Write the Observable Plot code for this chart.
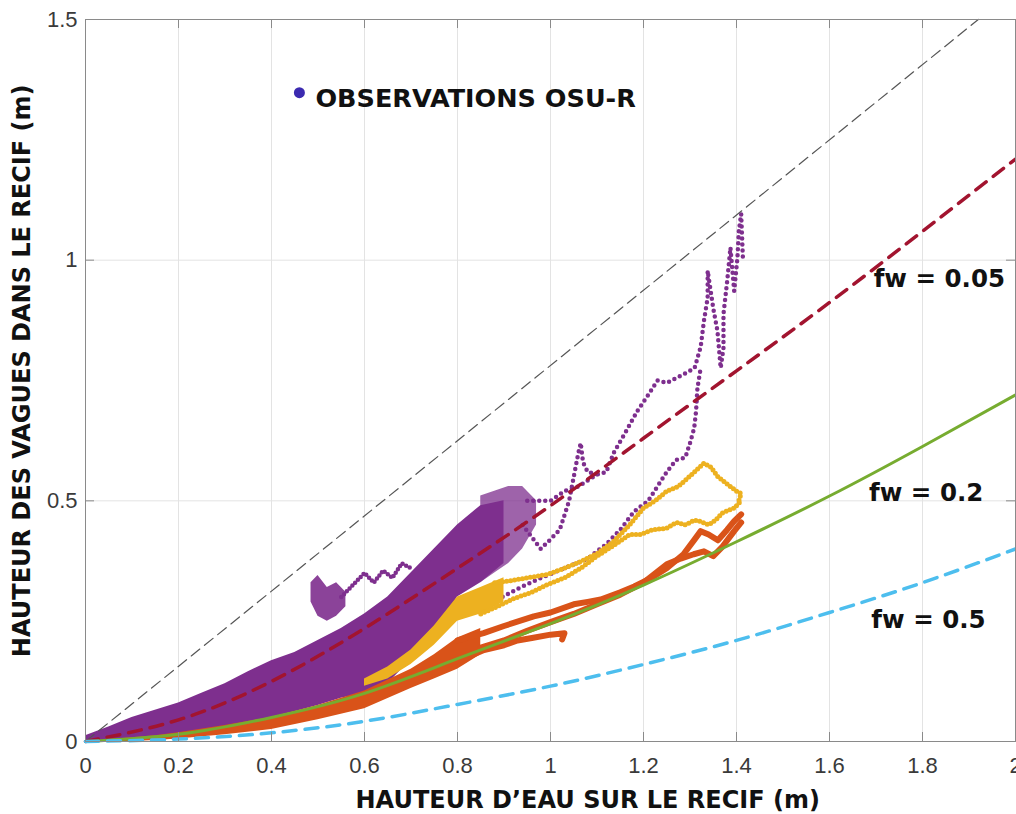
<!DOCTYPE html>
<html>
<head>
<meta charset="utf-8">
<script src="https://cdn.jsdelivr.net/npm/d3@7"></script>
<script src="https://cdn.jsdelivr.net/npm/@observablehq/plot@0.6"></script>
<style>
  html, body { margin: 0; padding: 0; background: #fff; }
  #chart { width: 1016px; height: 814px; }
</style>
</head>
<body>
<div id="chart"></div>
<script>
// ---- ticks ----
const xTicks = [0, 0.2, 0.4, 0.6, 0.8, 1, 1.2, 1.4, 1.6, 1.8, 2];
const yTicks = [0, 0.5, 1, 1.5];

// ---- model curves ----
const curveX = [0, 0.2, 0.4, 0.6, 0.8, 1.0, 1.2, 1.4, 1.6, 1.8, 2.0];
const fw005 = [0, 0.045, 0.125, 0.235, 0.36, 0.49, 0.63, 0.77, 0.912, 1.06, 1.21];
const fw02  = [0, 0.015, 0.05, 0.1, 0.172, 0.245, 0.325, 0.415, 0.51, 0.613, 0.72];
const fw05  = [0, 0.005, 0.018, 0.042, 0.077, 0.115, 0.16, 0.21, 0.268, 0.33, 0.40];
const diagX = [0, 1.92];
const diagY = [0, 1.5];

const purpleX  = [0, 0.05, 0.1, 0.15, 0.2, 0.25, 0.3, 0.35, 0.4, 0.45, 0.5, 0.55, 0.6, 0.65, 0.7, 0.75, 0.8, 0.85, 0.9];
const purpleLo = [0, 0, 0.003, 0.007, 0.012, 0.02, 0.028, 0.038, 0.05, 0.062, 0.075, 0.09, 0.1, 0.12, 0.17, 0.22, 0.3, 0.33, 0.37];
const purpleHi = [0.012, 0.03, 0.05, 0.065, 0.08, 0.1, 0.12, 0.145, 0.168, 0.185, 0.21, 0.235, 0.265, 0.3, 0.35, 0.4, 0.45, 0.49, 0.5];

const purpleSparseX  = [0.85, 0.88, 0.91, 0.94, 0.97];
const purpleSparseLo = [0.33, 0.35, 0.37, 0.4, 0.45];
const purpleSparseHi = [0.51, 0.52, 0.53, 0.53, 0.5];

const purpleBlobX  = [0.485, 0.5, 0.52, 0.54, 0.56];
const purpleBlobLo = [0.29, 0.26, 0.25, 0.26, 0.28];
const purpleBlobHi = [0.33, 0.345, 0.32, 0.33, 0.31];

const yellowX  = [0.6, 0.65, 0.7, 0.75, 0.8, 0.85, 0.9];
const yellowLo = [0.115, 0.13, 0.16, 0.2, 0.25, 0.265, 0.29];
const yellowHi = [0.13, 0.155, 0.19, 0.24, 0.3, 0.32, 0.34];

const orangeX  = [0.05, 0.1, 0.15, 0.2, 0.3, 0.4, 0.5, 0.6, 0.7, 0.75, 0.8, 0.85];
const orangeLo = [0, 0, 0.002, 0.005, 0.014, 0.025, 0.045, 0.068, 0.11, 0.13, 0.15, 0.18];
const orangeHi = [0.004, 0.008, 0.012, 0.018, 0.033, 0.05, 0.075, 0.105, 0.15, 0.18, 0.215, 0.235];

const purpleWave = [[0.55,0.3],[0.58,0.33],[0.6,0.35],[0.62,0.33],[0.64,0.355],[0.66,0.34],[0.68,0.37],[0.7,0.36]];
const purpleA = [[0.95,0.5],[1.0,0.5],[1.03,0.52],[1.06,0.53],[1.1,0.555],[1.12,0.56],[1.136,0.6],[1.16,0.64],[1.187,0.687],[1.21,0.72],[1.23,0.75],[1.25,0.745],[1.27,0.755],[1.29,0.765],[1.31,0.776],[1.323,0.82],[1.33,0.874],[1.338,0.922],[1.338,0.978],[1.35,0.9],[1.359,0.853],[1.366,0.776],[1.372,0.818],[1.372,0.888],[1.38,0.957],[1.387,1.026],[1.395,0.936],[1.402,1.005],[1.405,1.06],[1.41,1.096],[1.414,0.998]];
const purpleB = [[0.85,0.28],[0.892,0.298],[0.935,0.32],[0.98,0.34],[1.03,0.36],[1.08,0.38],[1.12,0.41],[1.15,0.44],[1.18,0.478],[1.21,0.5],[1.25,0.56],[1.27,0.585],[1.29,0.59],[1.3,0.62],[1.309,0.651],[1.313,0.686],[1.316,0.734],[1.323,0.776]];
const purpleC = [[0.94,0.45],[0.979,0.4],[1.0,0.42],[1.02,0.44],[1.03,0.47],[1.04,0.5],[1.05,0.55],[1.06,0.6],[1.065,0.62],[1.07,0.58],[1.08,0.56],[1.1,0.555]];
const yellowA = [[0.88,0.33],[0.907,0.333],[0.95,0.34],[0.993,0.347],[1.03,0.36],[1.065,0.374],[1.1,0.39],[1.136,0.416],[1.17,0.45],[1.2,0.485],[1.225,0.5],[1.25,0.52],[1.275,0.53],[1.295,0.547],[1.315,0.565],[1.33,0.578],[1.345,0.57],[1.36,0.55],[1.38,0.535],[1.4,0.52],[1.41,0.515],[1.405,0.5]];
const yellowB = [[0.85,0.265],[0.885,0.28],[0.921,0.297],[0.96,0.31],[0.993,0.326],[1.03,0.34],[1.065,0.36],[1.1,0.385],[1.14,0.41],[1.17,0.43],[1.194,0.43],[1.22,0.44],[1.25,0.443],[1.27,0.455],[1.29,0.45],[1.31,0.46],[1.323,0.457],[1.34,0.45],[1.355,0.46],[1.37,0.475],[1.395,0.485],[1.41,0.5]];
const orangeA = [[0.8,0.21],[0.856,0.225],[0.9,0.24],[0.964,0.26],[1.0,0.268],[1.05,0.285],[1.08,0.29],[1.108,0.295],[1.15,0.31],[1.18,0.322],[1.215,0.339],[1.25,0.36],[1.286,0.389],[1.31,0.42],[1.323,0.437],[1.34,0.43],[1.36,0.418],[1.38,0.44],[1.395,0.458],[1.41,0.472]];
const orangeB = [[0.85,0.195],[0.9,0.21],[0.95,0.23],[1.0,0.248],[1.05,0.265],[1.1,0.285],[1.15,0.305],[1.2,0.33],[1.25,0.368],[1.28,0.38],[1.308,0.389],[1.33,0.395],[1.35,0.385],[1.37,0.405],[1.395,0.437],[1.41,0.455]];
const orangeC = [[0.78,0.16],[0.82,0.175],[0.857,0.19],[0.9,0.2],[0.929,0.21],[0.96,0.215],[1.0,0.222],[1.03,0.225],[1.025,0.212]];

// ---- labels ----
const xTitle = "HAUTEUR D’EAU SUR LE RECIF (m)";
const yTitle = "HAUTEUR DES VAGUES DANS LE RECIF (m)";
const xTitleAt = 1.08;   // centre of x title, in x units
const yTitleAt = 0.77;   // centre of y title, in y units
const legendText = "OBSERVATIONS OSU-R";
const legendPos = [0.46, 1.348];
const fwLabels = [
  {x: 1.695, y: 0.96, text: "fw = 0.05"},
  {x: 1.685, y: 0.515, text: "fw = 0.2"},
  {x: 1.69, y: 0.252, text: "fw = 0.5"}
];

const C = {
  purple: "#7E2F8E", yellow: "#EDB120", orange: "#D95319",
  green: "#77AC30", blue: "#4DBEEE", red: "#A2142F", legend: "#3B2AB0"
};

const band = (xs, lo, hi) => xs.map((x, i) => ({x, lo: lo[i], hi: hi[i]}));
const curve = (ys) => curveX.map((x, i) => ({x, y: ys[i]}));
const tickLenX = 9 / 464.6, tickLenY = 9 / 480.7;
const boldFont = "'DejaVu Sans', sans-serif";
const dottedLine = (data, color, gap, w) => Plot.line(data, {x: d => d[0], y: d => d[1], stroke: color, strokeWidth: w, strokeDasharray: `0 ${gap}`, strokeLinecap: "round"});
const solidLine = (data, color, w) => Plot.line(data, {x: d => d[0], y: d => d[1], stroke: color, strokeWidth: w, strokeLinecap: "round", strokeLinejoin: "round"});
const areaBand = (data, color, op) => Plot.areaY(data, {x: "x", y1: "lo", y2: "hi", fill: color, fillOpacity: op});

const chart = Plot.plot({
  width: 1016,
  height: 814,
  marginLeft: 85,
  marginRight: 1,
  marginTop: 19,
  marginBottom: 73,
  style: {fontFamily: "'Liberation Sans', Arial, sans-serif", background: "#fff"},
  x: {domain: [0, 2]},
  y: {domain: [0, 1.5]},
  marks: [
    Plot.gridX(xTicks, {stroke: "#e3e3e3", strokeOpacity: 1}),
    Plot.gridY(yTicks, {stroke: "#e3e3e3", strokeOpacity: 1}),
    // observations
    areaBand(band(purpleSparseX, purpleSparseLo, purpleSparseHi), C.purple, 0.75),
    areaBand(band(purpleX, purpleLo, purpleHi), C.purple, 1),
    areaBand(band(purpleBlobX, purpleBlobLo, purpleBlobHi), C.purple, 0.9),
    dottedLine(purpleWave, C.purple, 4, 4.5),
    dottedLine(purpleA, C.purple, 6, 4.5),
    dottedLine(purpleB, C.purple, 6, 4.5),
    dottedLine(purpleC, C.purple, 6, 4.5),
    areaBand(band(yellowX, yellowLo, yellowHi), C.yellow, 1),
    dottedLine(yellowA, C.yellow, 4, 5),
    dottedLine(yellowB, C.yellow, 4, 5),
    areaBand(band(orangeX, orangeLo, orangeHi), C.orange, 1),
    solidLine(orangeA, C.orange, 6),
    solidLine(orangeB, C.orange, 6),
    solidLine(orangeC, C.orange, 6),
    // models
    Plot.line(diagX.map((x, i) => ({x, y: diagY[i]})), {x: "x", y: "y", stroke: "#555", strokeWidth: 1.2, strokeDasharray: "11 6"}),
    Plot.line(curve(fw005), {x: "x", y: "y", stroke: C.red, strokeWidth: 3.5, strokeDasharray: "13 9", curve: "natural"}),
    Plot.line(curve(fw02), {x: "x", y: "y", stroke: C.green, strokeWidth: 3, curve: "natural"}),
    Plot.line(curve(fw05), {x: "x", y: "y", stroke: C.blue, strokeWidth: 3.5, strokeDasharray: "13 9", curve: "natural"}),
    // frame & inward ticks
    Plot.frame({stroke: "#8a8a8a", strokeWidth: 1}),
    Plot.ruleX(xTicks, {y1: 0, y2: tickLenY, stroke: "#8a8a8a"}),
    Plot.ruleX(xTicks, {y1: 1.5, y2: 1.5 - tickLenY, stroke: "#8a8a8a"}),
    Plot.ruleY(yTicks, {x1: 0, x2: tickLenX, stroke: "#8a8a8a"}),
    Plot.ruleY(yTicks, {x1: 2, x2: 2 - tickLenX, stroke: "#8a8a8a"}),
    // tick labels
    Plot.axisX(xTicks, {tickSize: 0, tickPadding: 16, fontSize: 22, fill: "#3a3a3a", label: null, tickFormat: d => String(d)}),
    Plot.axisY(yTicks, {tickSize: 0, tickPadding: 8, fontSize: 22, fill: "#3a3a3a", label: null, tickFormat: d => String(d)}),
    // axis titles
    Plot.text([xTitle], {x: () => xTitleAt, y: () => 0, dy: 59, fontSize: 24, fontWeight: "bold", fontFamily: boldFont, fill: "#111"}),
    Plot.text([yTitle], {x: () => 0, y: () => yTitleAt, dx: -63, rotate: -90, textAnchor: "middle", fontSize: 24, fontWeight: "bold", fontFamily: boldFont, fill: "#111"}),
    // annotations
    Plot.dot([legendPos], {x: d => d[0], y: d => d[1], r: 5.5, fill: C.legend, stroke: null}),
    Plot.text([legendPos], {x: d => d[0], y: d => d[1], text: () => legendText, dx: 16, dy: 6, textAnchor: "start", fontSize: 25.5, fontWeight: "bold", fontFamily: boldFont, fill: "#111"}),
    Plot.text(fwLabels, {x: "x", y: "y", text: "text", textAnchor: "start", fontSize: 24.5, fontWeight: "bold", fontFamily: boldFont, fill: "#111"})
  ]
});
document.getElementById("chart").appendChild(chart);
</script>
</body>
</html>
